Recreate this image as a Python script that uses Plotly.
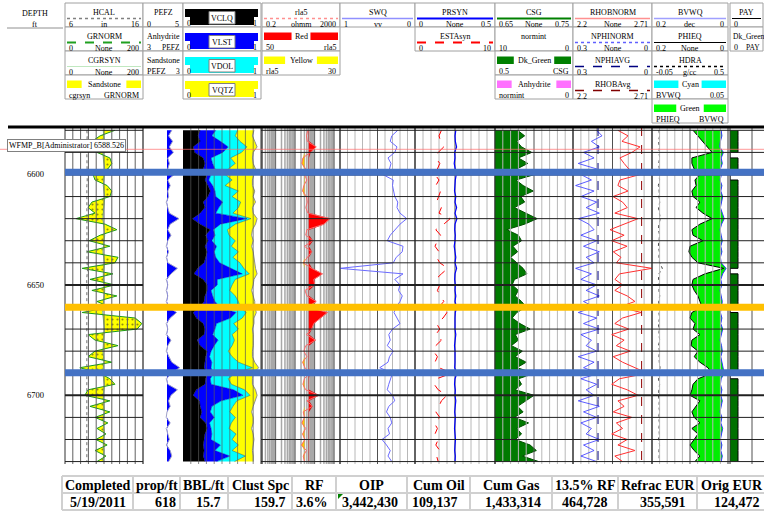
import numpy as np
import plotly.graph_objects as go

W, H = 764, 512
def fx(p): return p / W
def fy(p): return 1 - p / H
SERIF = 'Liberation Serif, Times New Roman, serif'

DEPTH_TOP, DEPTH_BOT = 6578.5, 6731.1
DEPTH = [6580 + 2.5 * i for i in range(61)]
DEPTH_LABELS = [6600, 6650, 6700]

HCAL = [8.8, 8.85, 8.8, 8.75, 8.8, 8.82, 8.8, 8.78, 8.8, 8.85,
        8.8, 8.8, 8.78, 8.8, 8.82, 8.8, 8.75, 8.8, 8.8, 8.83,
        8.8, 8.78, 8.8, 8.8, 8.82, 8.9, 8.8, 8.78, 8.8, 8.8,
        8.82, 8.8, 8.8, 8.78, 8.8, 8.85, 8.8, 8.8, 8.78, 8.8,
        8.8, 8.82, 8.8, 8.78, 8.8, 8.8, 8.83, 8.8, 8.8, 8.78,
        8.8, 8.8, 8.82, 8.8, 8.78, 8.8, 8.8, 8.82, 8.8, 8.8,
        8.8]
GRNORM = [128, 90, 69, 64, 82, 115, 120, 110, 72, 77,
          108, 120, 115, 69, 59, 77, 28, 103, 133, 90,
          62, 115, 56, 136, 128, 44, 123, 64, 128, 69,
          133, 82, 115, 44, 180, 197, 185, 59, 77, 136,
          77, 59, 120, 38, 90, 115, 128, 59, 51, 115,
          64, 115, 77, 110, 82, 105, 79, 108, 77, 105,
          82]
CGRSYN = [98, 100, 101, 99, 97, 98, 100, 102, 101, 99,
          98, 100, 102, 101, 99, 98, 97, 99, 101, 102,
          100, 98, 97, 99, 101, 100, 98, 99, 101, 102,
          100, 99, 97, 96, 98, 100, 101, 100, 99, 98,
          97, 99, 100, 98, 97, 99, 101, 100, 98, 99,
          100, 101, 99, 98, 100, 101, 99, 98, 100, 99,
          98]
PEFZ = [3.6, 3.2, 3.7, 3.3, 3.8, 3.1, 3.3, 3.1, 3.9, 3.1,
        3.4, 3.1, 3.2, 2.9, 3.1, 3.3, 4.5, 3.4, 3.1, 3.5,
        3.1, 2.9, 3.2, 2.9, 3.1, 4.3, 3.5, 2.9, 3.1, 2.9,
        3.1, 2.9, 3.2, 4.2, 3.4, 2.9, 3.1, 2.9, 3.5, 3.1,
        2.9, 3.2, 3.6, 4.6, 3.5, 2.9, 3.1, 4.3, 3.5, 3.2,
        3.4, 3.0, 2.9, 3.4, 2.9, 3.1, 3.3, 2.9, 3.4, 3.6,
        3.2]
PEF_CUT = 3.0
VCLQ = [.22, .19, .22, .13, .15, .26, .28, .26, .31, .28,
        .32, .35, .32, .26, .28, .22, .12, .22, .35, .29,
        .32, .28, .31, .29, .27, .19, .14, .26, .31, .31,
        .28, .27, .22, .13, .17, .26, .28, .27, .18, .22,
        .31, .29, .28, .27, .31, .29, .28, .17, .13, .21,
        .22, .24, .22, .29, .31, .28, .27, .26, .27, .26,
        .28]
VLST = [.20, .18, .26, .45, .36, .10, .10, .15, .05, .05,
        .06, .06, .10, .25, .18, .20, .70, .26, .04, .12,
        .05, .15, .09, .13, .20, .42, .62, .18, .13, .05,
        .10, .14, .25, .55, .44, .17, .13, .11, .27, .18,
        .05, .05, .09, .09, .08, .06, .08, .48, .64, .28,
        .15, .11, .18, .05, .05, .09, .09, .22, .14, .34,
        .15]
VDOL = [.28, .30, .25, .24, .24, .25, .29, .17, .18, .30,
        .16, .30, .21, .23, .25, .22, .05, .19, .18, .18,
        .30, .19, .31, .22, .26, .17, .09, .23, .19, .24,
        .29, .30, .26, .13, .15, .22, .30, .25, .21, .23,
        .22, .29, .34, .53, .28, .23, .26, .14, .09, .20,
        .27, .25, .27, .28, .23, .31, .27, .23, .22, .20,
        .23]
VQTZ = [.21, .22, .19, .13, .15, .28, .23, .35, .37, .26,
        .35, .21, .27, .19, .18, .26, .08, .26, .32, .29,
        .23, .26, .19, .27, .19, .15, .10, .24, .27, .28,
        .23, .21, .19, .13, .15, .26, .18, .27, .24, .27,
        .31, .26, .21, .08, .23, .31, .27, .14, .09, .23,
        .26, .28, .23, .28, .29, .22, .28, .19, .26, .10,
        .24]
RLA5 = [45, 38, 42, 120, 60, 25, 22, 35, 30, 40,
        28, 24, 38, 42, 35, 45, 600, 300, 40, 35,
        80, 30, 70, 45, 26, 70, 250, 90, 100, 32,
        40, 120, 45, 450, 200, 90, 70, 38, 110, 35,
        28, 40, 24, 32, 55, 30, 25, 35, 160, 40,
        75, 26, 30, 22, 35, 24, 32, 21, 38, 26,
        30]
RLA_RED_CUT, RLA_YEL_CUT = 50, 30
SWQ = [.23, .31, .33, .24, .27, .36, .32, .34, .43, .29,
       .30, .28, .27, .23, .24, .20, .11, .20, .26, .33,
       .37, .16, .17, .25, .29, 1.0, .16, .27, .20, .22,
       .17, .20, .25, .28, .24, .20, .30, .35, .33, .37,
       .29, .34, .36, .47, .30, .33, .35, .37, .30, .27,
       .35, .38, .33, .31, .36, .34, .44, .38, .33, .36,
       .31]
PRSYN = [.255, .250, .252, .260, .248, .250, .245, .250, .258, .252,
         .250, .247, .255, .250, .260, .250, .262, .250, .248, .252,
         .250, .245, .250, .255, .250, .260, .250, .248, .252, .250,
         .255, .250, .260, .252, .250, .248, .250, .255, .250, .247,
         .250, .252, .250, .248, .262, .250, .247, .252, .250, .255,
         .250, .248, .252, .250, .247, .250, .253, .250, .248, .252,
         .250]
ESTASYN = [3.3, 3.0, 3.2, 3.6, 2.9, 2.6, 3.1, 2.8, 2.5, 3.0,
           2.6, 3.2, 2.9, 2.7, 3.3, 3.0, 4.4, 3.6, 2.6, 3.2,
           2.8, 2.5, 3.0, 2.7, 3.1, 4.1, 3.3, 2.6, 3.1, 2.8,
           3.2, 3.6, 3.0, 4.0, 3.5, 2.7, 3.1, 2.6, 3.3, 2.6,
           2.3, 2.8, 2.5, 3.0, 4.6, 2.7, 2.4, 2.9, 4.0, 3.3,
           3.0, 2.6, 3.1, 2.4, 2.8, 2.5, 2.9, 2.6, 3.1, 2.7,
           2.9]
CSG = [.679, .688, .678, .684, .697, .680, .692, .678, .701, .677,
       .686, .699, .683, .688, .675, .690, .704, .688, .665, .680,
       .684, .673, .679, .670, .678, .686, .691, .675, .672, .680,
       .676, .684, .690, .678, .672, .682, .695, .676, .680, .671,
       .685, .676, .690, .678, .701, .680, .684, .676, .700, .690,
       .679, .686, .675, .693, .678, .684, .676, .695, .703, .685,
       .706]
RHOBNORM = [2.49, 2.555, 2.516, 2.633, 2.58, 2.503, 2.53, 2.56, 2.633, 2.503,
            2.49, 2.555, 2.458, 2.52, 2.55, 2.47, 2.62, 2.523, 2.439, 2.53,
            2.45, 2.549, 2.46, 2.51, 2.48, 2.71, 2.50, 2.471, 2.52, 2.47,
            2.55, 2.60, 2.50, 2.64, 2.52, 2.47, 2.56, 2.45, 2.53, 2.48,
            2.57, 2.46, 2.52, 2.60, 2.68, 2.50, 2.45, 2.55, 2.62, 2.49,
            2.53, 2.46, 2.58, 2.48, 2.52, 2.45, 2.55, 2.49, 2.60, 2.47,
            2.52]
NPHINORM = [.21, .19, .23, .20, .26, .22, .28, .21, .27, .23,
            .29, .22, .27, .21, .25, .20, .28, .24, .22, .27,
            .21, .26, .20, .25, .22, .29, .23, .27, .21, .25,
            .20, .26, .22, .28, .21, .26, .20, .27, .23, .25,
            .21, .28, .22, .26, .20, .27, .21, .25, .22, .28,
            .20, .26, .21, .27, .23, .25, .20, .26, .22, .27,
            .21]
AVG_DEPTH = [DEPTH_TOP, DEPTH_BOT]
NPHIAVG = [0.205, 0.205]
RHOBAVG = [2.643, 2.643]
PHIEQ = [.092, .079, .068, .055, .042, .095, .095, .089, .074, .087,
         .084, .095, .092, .074, .084, .066, .042, .074, .095, .092,
         .066, .100, .103, .095, .079, .011, .061, .092, .095, .089,
         .079, .074, .068, .095, .100, .087, .092, .074, .095, .097,
         .079, .089, .074, .053, .042, .079, .092, .095, .100, .074,
         .084, .095, .089, .074, .095, .079, .089, .100, .089, .074,
         .087]
BVWQ = [.018, .016, .020, .022, .012, .018, .015, .020, .017, .021,
        .016, .019, .014, .018, .020, .015, .010, .017, .021, .018,
        .015, .019, .016, .020, .018, .005, .014, .019, .016, .021,
        .018, .015, .017, .020, .016, .019, .014, .018, .021, .017,
        .015, .019, .016, .012, .010, .018, .020, .016, .019, .015,
        .018, .021, .016, .019, .014, .018, .020, .016, .019, .015,
        .018]
HDRA = [.000, .005, -.003, .004, .000, .006, -.002, .003, .000, .005,
        -.004, .002, .000, .006, -.003, .004, .010, .000, -.003, .005,
        .002, -.004, .003, .000, .005, .025, .000, -.003, .004, .000,
        .006, -.002, .003, .000, .005, -.004, .002, .000, .006, -.003,
        .004, .000, .003, .008, .000, -.003, .005, .002, -.004, .003,
        .000, .005, -.002, .004, .000, .003, -.003, .005, .000, .002,
        .000]
PAY = [1, 1, 1, 1, 0, 1, 1, 1, 0, 1,
       1, 1, 1, 1, 1, 1, 1, 1, 1, 1,
       1, 1, 1, 1, 1, 0, 1, 1, 1, 1,
       1, 1, 0, 1, 1, 1, 1, 1, 1, 1,
       1, 1, 1, 1, 0, 1, 1, 1, 1, 1,
       1, 1, 1, 1, 1, 1, 1, 1, 1, 1,
       1]

ZONES = [(6599.0, '#4472C4'), (6660.1, '#FFC000'), (6689.8, '#4472C4')]
MARKER_DEPTH, MARKER_TEXT = 6588.6, 'WFMP_B[Administrator] 6588.526'

TABLE_HEAD = ['Completed', 'prop/ft', 'BBL/ft', 'Clust Spc', 'RF', 'OIP',
              'Cum Oil', 'Cum Gas', '13.5% RF', 'Refrac EUR', 'Orig EUR']
TABLE_VALS = ['5/19/2011', '618', '15.7', '159.7', '3.6%', '3,442,430',
              '109,137', '1,433,314', '464,728', '355,591', '124,472']

# ---------------- layout geometry (pixels) ----------------
TR = {'gr': (65, 143), 'pef': (143, 183), 'lith': (183, 261), 'res': (262, 340),
      'sw': (340, 415), 'pr': (415, 495), 'csg': (495, 573), 'rhob': (573, 652),
      'bvw': (652, 728), 'pay': (730, 764)}
Y0, Y1 = 127, 464

AXES = [('gr', 'gr', [0, 200], 'linear', None),
        ('hcal', 'gr', [6, 16], 'linear', 'gr'),
        ('pef', 'pef', [0, 5], 'linear', None),
        ('lith', 'lith', [0, 1], 'linear', None),
        ('res', 'res', [np.log10(0.2), np.log10(2000)], 'log', None),
        ('sw', 'sw', [1, 0], 'linear', None),
        ('pr', 'pr', [0, 0.5], 'linear', None),
        ('esta', 'pr', [0, 10], 'linear', 'pr'),
        ('csg', 'csg', [0.65, 0.75], 'linear', None),
        ('rhob', 'rhob', [2.2, 2.71], 'linear', None),
        ('nphi', 'rhob', [0.3, 0], 'linear', 'rhob'),
        ('bvw', 'bvw', [0.2, 0], 'linear', None),
        ('hdra', 'bvw', [-0.05, 0.5], 'linear', 'bvw'),
        ('pay', 'pay', [0, 4.25], 'linear', None)]
AXID = {}
layout_axes = {}
for i, (nm, trk, rng, typ, ov) in enumerate(AXES):
    AXID[nm] = 'x' if i == 0 else 'x%d' % (i + 1)
for i, (nm, trk, rng, typ, ov) in enumerate(AXES):
    key = 'xaxis' if i == 0 else 'xaxis%d' % (i + 1)
    d = dict(domain=[fx(TR[trk][0]), fx(TR[trk][1])], range=rng, type=typ,
             anchor='y', visible=False, fixedrange=True)
    if ov:
        d['overlaying'] = AXID[ov]
    layout_axes[key] = d

fig = go.Figure()
def tr(ax, x, y=None, **kw):
    fig.add_trace(go.Scatter(x=list(x), y=DEPTH if y is None else y, xaxis=AXID[ax], yaxis='y',
                             mode='lines', showlegend=False, hoverinfo='skip', **kw))
n = len(DEPTH)
NOLINE = dict(width=0, color='rgba(0,0,0,0)')

# Track 1
tr('hcal', HCAL, line=dict(color='#707070', width=1, dash='dot'))
tr('gr', CGRSYN, line=dict(color='#88cc88', width=1))
tr('gr', GRNORM, line=dict(color='#1a9a1a', width=1), fill='tonextx', fillcolor='#ffff00',
   fillpattern=dict(shape='.', bgcolor='#ffff00', fgcolor='#202020', size=5, solidity=0.15))
# Track 2
tr('pef', [PEF_CUT] * n, line=NOLINE)
tr('pef', np.maximum(PEFZ, PEF_CUT), line=NOLINE, fill='tonextx', fillcolor='#0000ff')
tr('pef', PEFZ, line=dict(color='#a0a0c8', width=1))
# Track 3
c1 = np.array(VCLQ); c2 = c1 + VLST; c3 = c2 + VDOL; c4 = c3 + VQTZ
tr('lith', c1, fill='tozerox', fillcolor='#000000', line=dict(color='#000000', width=0.5))
tr('lith', c2, fill='tonextx', fillcolor='#0000ff', line=dict(color='#0000b0', width=0.5))
tr('lith', c3, fill='tonextx', fillcolor='#00ffff', line=dict(color='#006060', width=0.5))
tr('lith', c4, fill='tonextx', fillcolor='#ffff00', line=dict(color='#909090', width=1))
# Track 4
tr('res', [RLA_RED_CUT] * n, line=NOLINE)
tr('res', np.maximum(RLA5, RLA_RED_CUT), line=dict(color='#c00000', width=0.5), fill='tonextx', fillcolor='#ff0000')
tr('res', [RLA_YEL_CUT] * n, line=NOLINE)
tr('res', np.minimum(RLA5, RLA_YEL_CUT), line=NOLINE, fill='tonextx', fillcolor='#ffcc00')
tr('res', RLA5, line=dict(color='#ff6a6a', width=1))
# Track 5
tr('sw', SWQ, line=dict(color='#6a6aff', width=1))
# Track 6
tr('pr', PRSYN, line=dict(color='#0000ff', width=1.2))
tr('esta', ESTASYN, line=dict(color='#ff0000', width=1, dash='dash'))
# Track 7
tr('csg', CSG, fill='tozerox', fillcolor='#007a00', line=dict(color='#005000', width=1))
# Track 8
tr('nphi', NPHINORM, line=dict(color='#3333ff', width=0.8))
tr('rhob', RHOBNORM, line=dict(color='#ff3030', width=1))
tr('nphi', NPHIAVG, y=AVG_DEPTH, line=dict(color='#000080', width=1, dash='dash'))
tr('rhob', RHOBAVG, y=AVG_DEPTH, line=dict(color='#900000', width=1, dash='dash'))
# Track 9
tr('bvw', PHIEQ, line=dict(color='#000000', width=1))
tr('bvw', BVWQ, fill='tonextx', fillcolor='#00ee00', line=dict(color='#3030ff', width=1))
tr('hdra', HDRA, line=dict(color='#404040', width=1, dash='dot'))
# Track 10
tr('pay', PAY, fill='tozerox', fillcolor='#007000', line=dict(color='#000000', width=1), line_shape='vh')

# ---------------- shapes / annotations ----------------
S, A = [], []
def vseg(px, color, width=1, layer='above'):
    S.append(dict(type='line', xref='paper', yref='y', x0=fx(px), x1=fx(px), y0=DEPTH_TOP, y1=DEPTH_BOT,
                  line=dict(color=color, width=width), layer=layer))
def hseg(x0, x1, d, color, width=1):
    S.append(dict(type='line', xref='paper', yref='y', x0=fx(x0), x1=fx(x1), y0=d, y1=d,
                  line=dict(color=color, width=width), layer='above'))
def prect(x0, y0, x1, y1, fill=None, line=None, lw=1):
    S.append(dict(type='rect', xref='paper', yref='paper', x0=fx(x0), x1=fx(x1), y0=fy(y1), y1=fy(y0),
                  fillcolor=fill or 'rgba(0,0,0,0)',
                  line=dict(color=line or 'rgba(0,0,0,0)', width=lw if line else 0), layer='above'))
def pline(x0, x1, y, color, width=1, dash='solid'):
    S.append(dict(type='line', xref='paper', yref='paper', x0=fx(x0), x1=fx(x1), y0=fy(y), y1=fy(y),
                  line=dict(color=color, width=width, dash=dash), layer='above'))
def text(x, y, s, anchor='center', size=8, bold=False, **kw):
    A.append(dict(x=fx(x), y=fy(y), xref='paper', yref='paper', text=('<b>%s</b>' % s) if bold else s,
                  showarrow=False, xanchor=anchor, yanchor='middle',
                  font=dict(family=SERIF, size=size, color='black'), **kw))

# grids
for k in range(11):
    x0, x1 = TR['gr']
    vseg(x0 + k * (x1 - x0) / 10, '#303030' if k in (0, 10) else '#606060')
for trk in ['sw', 'pr', 'csg', 'rhob', 'bvw']:
    x0, x1 = TR[trk]
    lay = 'above' if trk in ('csg', 'bvw') else 'below'
    for k in range(11):
        c = '#303030' if k in (0, 10) else ('#505050' if k == 5 else '#b8b8b8')
        vseg(x0 + k * (x1 - x0) / 10, c, 1, lay)
x0, x1 = TR['lith']
for k in range(1, 10):
    vseg(x0 + k * (x1 - x0) / 10, 'rgba(90,90,90,0.7)')
vseg(TR['lith'][1], '#303030')
vseg(TR['pef'][0], '#606060')
x0, x1 = TR['res']
for dec in [0.1, 1, 10, 100, 1000]:
    for m in range(1, 10):
        v = dec * m
        if 0.2 <= v <= 2000:
            px = x0 + (np.log10(v) - np.log10(0.2)) / 4 * (x1 - x0)
            vseg(px, '#606060' if m == 1 else '#a8a8a8', 1 if m == 1 else 1.5, 'below')
vseg(x0, '#303030'); vseg(x1, '#303030')
vseg(TR['pay'][0], '#303030'); vseg(752, '#505050')
for d in range(6580, 6731, 10):
    w = 2 if d % 50 == 0 else 1
    hseg(65, 143, d, '#202020', w)
    hseg(261, 764, d, '#202020', w)
pline(8, 764, Y0, '#000000', 3)
S.append(dict(type='line', xref='paper', yref='y', x0=0, x1=1, y0=MARKER_DEPTH, y1=MARKER_DEPTH,
              line=dict(color='rgba(255,110,110,0.7)', width=1), layer='above'))
for d, c in ZONES:
    S.append(dict(type='rect', xref='paper', yref='y', x0=fx(65), x1=1, y0=d - 1.6, y1=d + 1.6,
                  fillcolor=c, line=dict(width=0), layer='above'))
A.append(dict(x=fx(7), y=fy(145), xref='paper', yref='paper', text=MARKER_TEXT, showarrow=False,
              xanchor='left', yanchor='middle', bgcolor='white', bordercolor='#808080', borderwidth=1,
              borderpad=1, font=dict(family=SERIF, size=8, color='black')))
for d in DEPTH_LABELS:
    A.append(dict(x=fx(35), y=d, xref='paper', yref='y', text=str(d), showarrow=False,
                  xanchor='center', yanchor='middle', font=dict(family=SERIF, size=8.5, color='black')))

# header
text(35, 13, 'DEPTH'); text(35, 24, 'ft'); pline(7, 63, 28, '#909090')
ROWS = [3, 27, 51, 75, 99, 123]
HDR = [
    (65, 143, [('curve', 'HCAL', '#808080', 'dot', 1.5, '6', 'in', '16'),
               ('curve', 'GRNORM', '#20a020', 'dash', 2, '0', 'None', '200'),
               ('curve', 'CGRSYN', '#c0e8c0', 'solid', 1, '0', 'None', '200'),
               ('fill', 'Sandstone', '#ffff00', 'cgrsyn', 'GRNORM')]),
    (143, 183, [('curve', 'PEFZ', None, None, 0, '0', '', '5'),
                ('text', 'Anhydrite', '3', 'PEFZ'),
                ('text', 'Sandstone', 'PEFZ', '3')]),
    (183, 261, [('lith', 'VCLQ', '#000000'), ('lith', 'VLST', '#0000ff'),
                ('lith', 'VDOL', '#00ffff'), ('lith', 'VQTZ', '#ffff00')]),
    (262, 340, [('curve', 'rla5', '#ff9090', 'dot', 1.5, '0.2', 'ohmm', '2000'),
                ('fill', 'Red', '#ff0000', '50', 'rla5'),
                ('fill', 'Yellow', '#ffff00', 'rla5', '30')]),
    (340, 415, [('curve', 'SWQ', '#9090ff', 'solid', 1.5, '1', 'vv', '0')]),
    (415, 495, [('curve', 'PRSYN', '#0000ff', 'solid', 2, '0', 'None', '0.5'),
                ('curve', 'ESTAsyn', '#ff0000', 'dash', 2, '0', '', '10')]),
    (495, 573, [('curve', 'CSG', '#008000', 'solid', 2, '0.65', 'None', '0.75'),
                ('curve', 'normint', None, None, 0, '10', '', '0'),
                ('fill', 'Dk_Green', '#008000', '0.5', 'CSG'),
                ('fill', 'Anhydrite', '#ff70ff', 'normint', '0')]),
    (573, 652, [('curve', 'RHOBNORM', '#ff9090', 'solid', 1.5, '2.2', 'None', '2.71'),
                ('curve', 'NPHINORM', '#6060ff', 'dot', 1.5, '0.3', 'None', '0'),
                ('curve', 'NPHIAVG', '#000080', 'dash', 1.5, '0.3', '', '0'),
                ('curve', 'RHOBAvg', '#800000', 'dash', 1.5, '2.2', '', '2.71')]),
    (652, 728, [('curve', 'BVWQ', '#a0a0ff', 'solid', 1.5, '0.2', 'dec', '0'),
                ('curve', 'PHIEQ', '#000000', 'solid', 1, '0.2', 'None', '0'),
                ('curve', 'HDRA', '#000000', 'dot', 1.5, '-0.05', 'g/cc', '0.5'),
                ('fill', 'Cyan', '#00ffff', 'BVWQ', '0.05'),
                ('fill', 'Green', '#00ff00', 'PHIEQ', 'BVWQ')]),
    (730, 763, [('curve', 'PAY', '#000000', 'solid', 1, '0', '', ''),
                ('ltext', 'Dk_Green', '0', 'PAY')]),
]
for x0, x1, rows in HDR:
    cx = (x0 + x1) / 2
    for r, spec in enumerate(rows):
        top, bot = ROWS[r], ROWS[r + 1]
        prect(x0, top, x1, bot, fill='white', line='#a0a0a0')
        kind = spec[0]
        if kind == 'curve':
            _, title, col, dash, lw, l, u, rr = spec
            text(cx, top + 9.5, title)
            if col:
                pline(x0 + 2, x1 - 2, top + 15.5, col, lw, dash)
            text(x0 + 2, top + 21, l, 'left'); text(cx, top + 21, u); text(x1 - 2, top + 21, rr, 'right')
        elif kind == 'fill':
            _, title, col, l, rr = spec
            tw = 4.3 * len(title) + 6
            prect(x0 + 2, top + 5.5, cx - tw / 2, top + 13, fill=col)
            prect(cx + tw / 2, top + 5.5, x1 - 2, top + 13, fill=col)
            text(cx, top + 9.5, title)
            text(x0 + 2, top + 20.5, l, 'left'); text(x1 - 2, top + 20.5, rr, 'right')
        elif kind in ('text', 'ltext'):
            _, title, l, rr = spec
            if kind == 'text':
                text(cx, top + 9.5, title)
            else:
                text(x0 + 1, top + 9.5, title, 'left', size=7.5)
            text(x0 + 2, top + 20.5, l, 'left'); text(x1 - 1, top + 20.5, rr, 'right', size=7.5)
        elif kind == 'lith':
            _, title, col = spec
            prect(x0 + 2, top + 6, x1 - 3, top + 14, fill=col)
            prect(x0 + 7, top + 14, x1 - 7, top + 22, fill=col)
            prect(cx - 13, top + 8.5, cx + 13, top + 21, fill='white', line='#808080')
            text(cx, top + 15, title)
            text(x0 + 2, top + 20, '0', 'left'); text(x1 - 2, top + 20, '1', 'right')

# table
COL_EDGES = [62, 133, 180, 228, 292, 336, 407, 470, 552, 618, 697, 766]
VAL_RIGHT = [128, 178, 223, 288, 330, 400, 460, 543, 610, 688, 762]
TY = [476, 493, 510]
for y in TY:
    pline(62, 764, y, '#d0d0d0', 2)
for xe in COL_EDGES[:-1]:
    S.append(dict(type='line', xref='paper', yref='paper', x0=fx(xe), x1=fx(xe), y0=fy(TY[2]), y1=fy(TY[0]),
                  line=dict(color='#d0d0d0', width=2), layer='above'))
for i, (h, v) in enumerate(zip(TABLE_HEAD, TABLE_VALS)):
    text((COL_EDGES[i] + COL_EDGES[i + 1]) / 2, 485, h, size=14, bold=True)
    text(VAL_RIGHT[i], 502, v, 'right', size=14, bold=True)
S.append(dict(type='path', xref='paper', yref='paper',
              path='M %f %f L %f %f L %f %f Z' % (fx(338), fy(494), fx(343), fy(494), fx(338), fy(499)),
              fillcolor='#008000', line=dict(width=0), layer='above'))

fig.update_layout(
    width=W, height=H, margin=dict(l=0, r=0, t=0, b=0), autosize=False,
    paper_bgcolor='white', plot_bgcolor='rgba(0,0,0,0)', showlegend=False,
    yaxis=dict(domain=[fy(Y1), fy(Y0)], range=[DEPTH_BOT, DEPTH_TOP], anchor='x',
               visible=False, fixedrange=True),
    shapes=S, annotations=A, **layout_axes)
fig.write_html('out.html')
